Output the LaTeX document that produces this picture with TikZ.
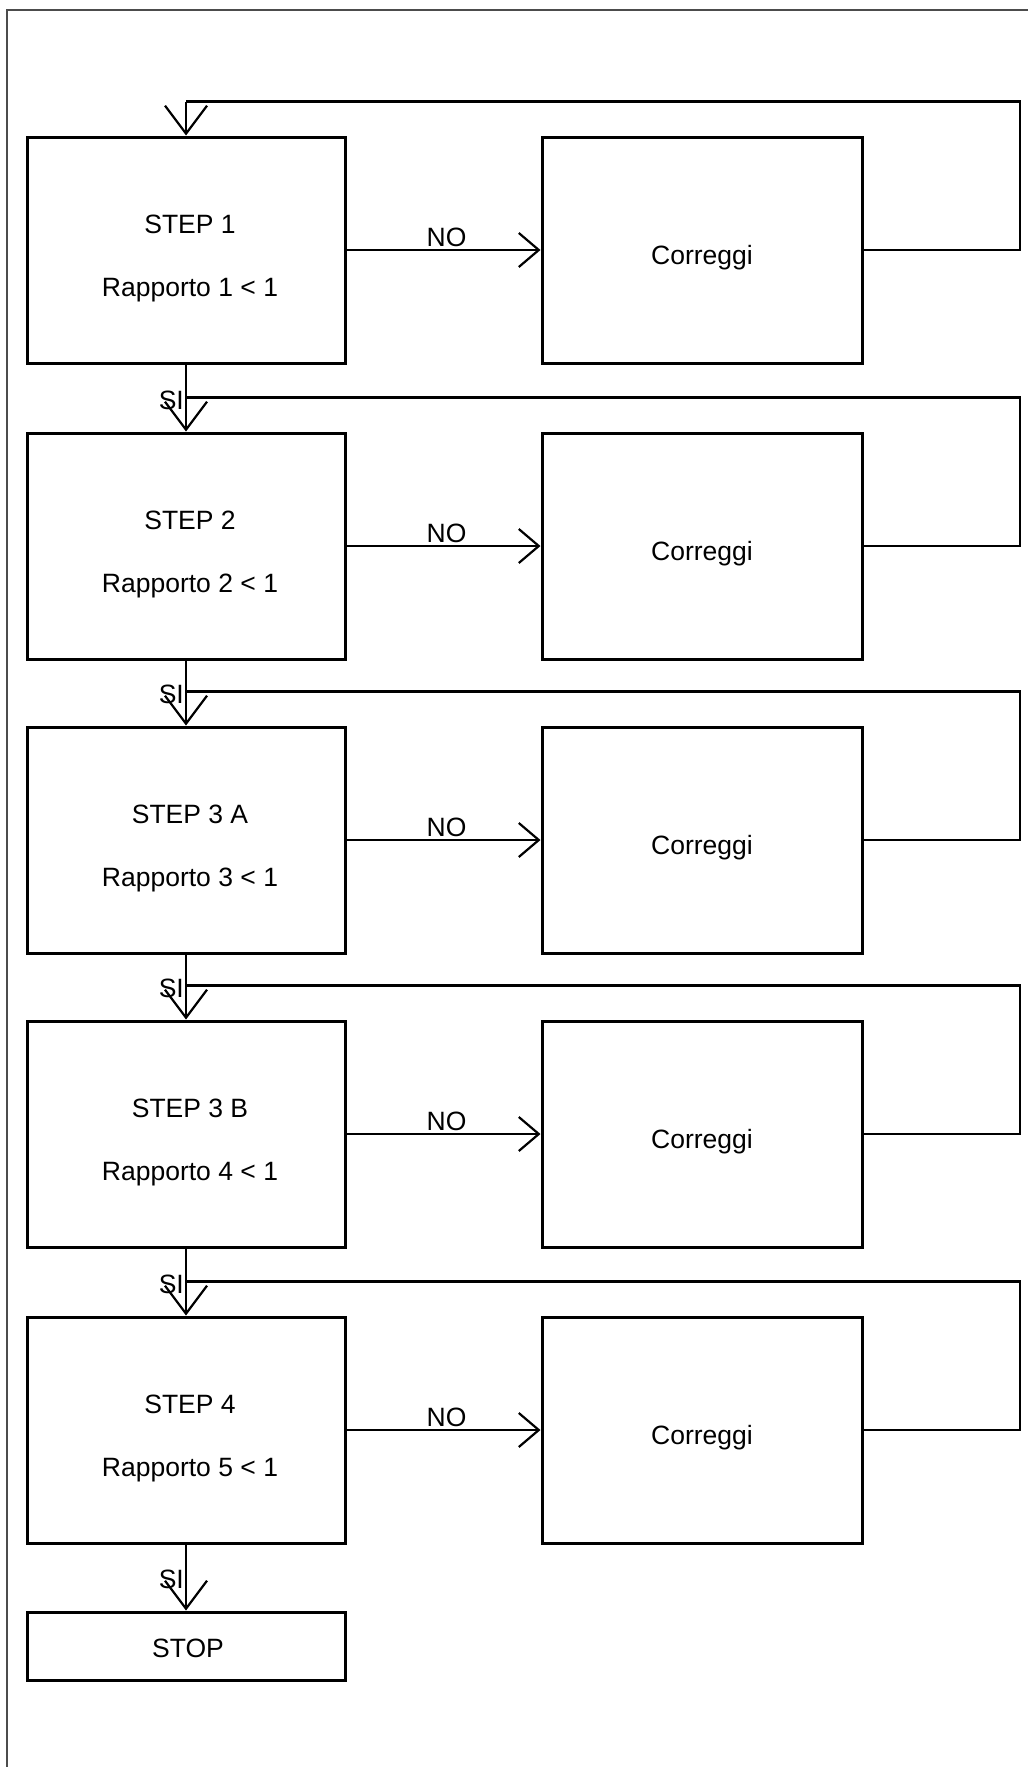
\documentclass[tikz,border=0pt]{standalone}
\usepackage{fontspec}
\setmainfont{Liberation Sans}
\usetikzlibrary{arrows.meta,calc}
\tikzset{
  stepbox/.style={draw, line width=3pt, minimum width=318pt, minimum height=226pt, inner sep=0pt},
  corbox/.style={draw, line width=3pt, minimum width=320pt, minimum height=226pt, inner sep=0pt},
  stopbox/.style={draw, line width=3pt, minimum width=318pt, minimum height=68pt, inner sep=0pt},
  conn/.style={line width=2.5pt},
  varr/.style={conn, -{Straight Barb[length=28pt, width=42pt, line width=2.2pt]}},
  harr/.style={conn, -{Straight Barb[length=20pt, width=34pt, line width=2.2pt]}},
  txt/.style={font=\fontsize{26.5}{30}\selectfont, inner sep=0pt, anchor=base},
  frameline/.style={draw=black!70, line width=1.5pt},
}
\begin{document}
\begin{tikzpicture}[x=1pt, y=-1pt]
\useasboundingbox (0,0) rectangle (1028,1767);
\fill[white] (0,0) rectangle (1028,1767);
\draw[frameline] (7,1767) -- (7,10) -- (1028,10);
\coordinate (xr) at (1020,0);

% step boxes
\node[stepbox] (s1) at (186,250) {};
\node[stepbox] (s2) at (186,546) {};
\node[stepbox] (s3) at (186,840) {};
\node[stepbox] (s4) at (186,1134) {};
\node[stepbox] (s5) at (186,1430) {};
\node[stopbox] (stop) at (186,1646) {};

% correggi boxes
\node[corbox] (c1) at (702,250) {};
\node[corbox] (c2) at (702,546) {};
\node[corbox] (c3) at (702,840) {};
\node[corbox] (c4) at (702,1134) {};
\node[corbox] (c5) at (702,1430) {};

% texts in steps
\node[txt] (t1a) at ([xshift=4pt, yshift=17pt]s1.center) {STEP 1};
\node[txt] (t1b) at ([xshift=4pt, yshift=-46pt]s1.center) {Rapporto 1 < 1};
\node[txt] (t2a) at ([xshift=4pt, yshift=17pt]s2.center) {STEP 2};
\node[txt] (t2b) at ([xshift=4pt, yshift=-46pt]s2.center) {Rapporto 2 < 1};
\node[txt] (t3a) at ([xshift=4pt, yshift=17pt]s3.center) {STEP 3 A};
\node[txt] (t3b) at ([xshift=4pt, yshift=-46pt]s3.center) {Rapporto 3 < 1};
\node[txt] (t4a) at ([xshift=4pt, yshift=17pt]s4.center) {STEP 3 B};
\node[txt] (t4b) at ([xshift=4pt, yshift=-46pt]s4.center) {Rapporto 4 < 1};
\node[txt] (t5a) at ([xshift=4pt, yshift=17pt]s5.center) {STEP 4};
\node[txt] (t5b) at ([xshift=4pt, yshift=-46pt]s5.center) {Rapporto 5 < 1};
\node[txt] (tstop) at ([xshift=2pt, yshift=-11pt]stop.center) {STOP};

\foreach \i in {1,...,5}{
  \node[txt] (ct\i) at ([yshift=-14pt]c\i.center) {Correggi};
  \coordinate (j\i) at ([yshift=34pt]s\i.north);
  \draw[harr] (s\i.east) -- node[txt, xshift=3pt, yshift=4pt] (no\i) {NO} (c\i.west);
  \draw[conn] (c\i.east) -- (c\i.east -| xr) |- (j\i);
}

% SI arrows
\draw[varr] (j1) -- (s1.north);
\draw[varr] (s1.south) -- (s2.north);
\draw[varr] (s2.south) -- (s3.north);
\draw[varr] (s3.south) -- (s4.north);
\draw[varr] (s4.south) -- (s5.north);
\draw[varr] (s5.south) -- (stop.north);

\node[txt, anchor=base east] (si2) at ([xshift=-2pt, yshift=22pt]s2.north) {SI};
\node[txt, anchor=base east] (si3) at ([xshift=-2pt, yshift=22pt]s3.north) {SI};
\node[txt, anchor=base east] (si4) at ([xshift=-2pt, yshift=22pt]s4.north) {SI};
\node[txt, anchor=base east] (si5) at ([xshift=-2pt, yshift=22pt]s5.north) {SI};
\node[txt, anchor=base east] (si6) at ([xshift=-2pt, yshift=22pt]stop.north) {SI};
\end{tikzpicture}
\end{document}
